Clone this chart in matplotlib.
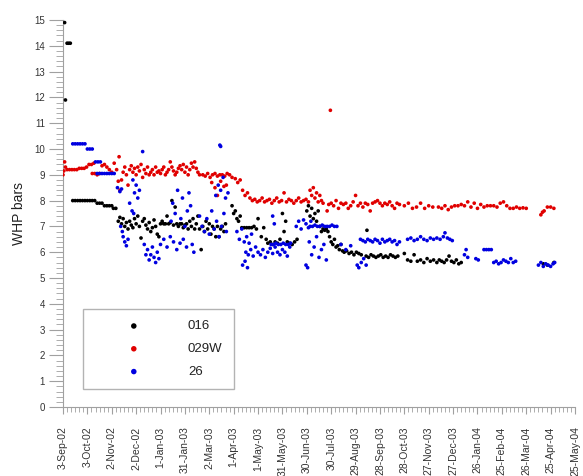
import matplotlib
matplotlib.use("Agg")
import matplotlib.pyplot as plt
from matplotlib.ticker import MultipleLocator

# ---------------------------------------------------------
# Data: day offsets from 3-Sep-02 and WHP readings (bars)
# ---------------------------------------------------------
tick_labels = ["3-Sep-02", "3-Oct-02", "2-Nov-02", "2-Dec-02", "1-Jan-03", "31-Jan-03",
               "2-Mar-03", "1-Apr-03", "1-May-03", "31-May-03", "30-Jun-03", "30-Jul-03",
               "29-Aug-03", "28-Sep-03", "28-Oct-03", "27-Nov-03", "27-Dec-03", "26-Jan-04",
               "25-Feb-04", "26-Mar-04", "25-Apr-04", "25-May-04"]

days_016 = [2, 3, 5, 7, 9,
            12, 15, 18, 21, 24, 27, 30, 33, 36, 39, 42, 45, 48, 51, 54, 57, 60, 62, 65,
            68, 70, 72, 74, 76, 78, 80, 82, 84, 86, 88, 90, 92, 94, 96, 98, 100, 102, 104,
            106, 108, 110, 112, 114, 116, 118, 120, 122, 124, 126, 128, 130, 132, 134, 136,
            138, 140, 142, 144, 146, 148, 150, 152, 154, 156, 158, 160, 162, 164, 166, 168,
            170, 172, 174, 176, 178, 180, 182, 184, 186, 188, 190, 192, 194, 196, 198, 200,
            208, 210, 212, 214, 216, 218, 220, 223, 226, 229, 232, 235, 238, 240, 244, 247,
            250, 252, 255, 258, 261, 264, 267, 270, 272, 274, 276, 279, 282, 285, 288,
            300, 302, 304, 306, 308, 310, 312, 314, 316, 318, 320, 322, 324, 326, 328, 330,
            332, 334, 336, 338, 340, 342, 344, 346, 349, 352, 355, 358, 361, 364, 367, 374,
            373, 376, 379, 382, 385, 388, 391, 394, 397, 400, 403, 406, 409, 412,
            420, 424, 428, 432, 436, 440, 444, 448, 452, 456, 460, 463, 466, 469, 472, 475,
            478, 481, 484, 487, 490, 591, 596, 604]
vals_016 = [14.9, 11.9, 14.1, 14.1, 14.1,
            8.0, 8.0, 8.0, 8.0, 8.0, 8.0, 8.0, 8.0, 8.0, 8.0, 7.9, 7.9, 7.9, 7.8, 7.8, 7.8, 7.8, 7.7, 7.7,
            7.2, 7.35, 7.1, 7.3, 7.0, 7.15, 6.9, 7.2, 7.05, 6.95, 7.3, 7.1, 7.4, 7.0, 6.55, 7.2, 7.3, 7.05, 6.9,
            7.15, 6.8, 6.95, 7.25, 7.0, 6.7, 6.6, 7.1, 7.2, 7.1, 7.1, 7.4, 7.1, 7.15, 8.0, 7.05,
            7.75, 7.1, 7.0, 7.1, 7.1, 6.95, 7.05, 7.1, 6.9, 7.2, 7.0, 7.3, 6.9, 7.1, 7.4, 6.9,
            6.1, 7.0, 6.8, 7.2, 6.9, 7.1, 6.7, 7.0, 6.9, 6.6, 7.0, 6.6, 6.9, 7.0, 6.8, 7.1,
            7.8, 7.5, 7.6, 7.3, 7.2, 7.4, 6.95, 6.95, 6.95, 6.95, 6.95, 7.0, 6.9, 7.3, 6.6, 6.95,
            6.5, 6.35, 6.4, 6.3, 6.4, 6.35, 6.5, 7.5, 6.8, 7.2, 6.4, 6.35, 6.3, 6.4, 6.5,
            7.6, 7.8, 7.4, 7.7, 7.3, 7.5, 7.2, 7.6, 7.0, 6.8, 6.9, 6.85, 6.9, 6.8, 6.6, 6.4,
            6.3, 6.5, 6.2, 6.25, 6.1, 6.3, 6.05, 6.0, 6.05, 5.95, 6.0, 5.9, 6.0, 5.95, 5.9, 6.85,
            5.85, 5.8, 5.9, 5.85, 5.8, 5.85, 5.9, 5.8, 5.85, 5.8, 5.9, 5.85, 5.8, 5.85,
            5.95, 5.7, 5.65, 5.9, 5.65, 5.7, 5.6, 5.75, 5.65, 5.7, 5.6, 5.7, 5.65, 5.6, 5.7, 5.85,
            5.65, 5.6, 5.7, 5.55, 5.6, 5.55, 5.5, 5.6]

days_029w = [0, 1, 2, 3, 5, 8, 11, 14, 17, 20, 23, 26, 29, 32, 35, 38, 36, 39, 42, 45, 48, 51, 54,
             57, 60, 63, 66, 69, 68, 70, 72, 74, 76, 78, 80, 82, 84, 86, 88, 90, 92, 94, 96, 98,
             100, 102, 104, 106, 108, 110, 112, 114, 116, 118, 120, 122, 124, 126, 128, 130, 132,
             134, 136, 138, 140, 142, 144, 146, 148, 150, 152, 154, 156, 158, 160, 162, 164, 166,
             168, 172, 175, 178, 181, 184, 187, 190, 193, 196, 199, 202, 205, 208,
             183, 187, 190, 194, 198, 201, 212, 215, 218, 221, 224, 227, 230,
             233, 236, 239, 242, 245, 248, 251, 254, 257, 260, 263, 266, 269, 272, 275, 278, 281,
             284, 287, 290, 293, 296, 299, 302, 304, 306, 308, 310, 312, 314, 316, 318, 320, 329,
             325, 327, 330, 333, 336, 339, 342, 345, 348, 351, 354, 357, 360, 363, 366, 369, 372,
             375, 378, 381, 384, 387, 390, 393, 396, 399, 402, 405, 408, 411, 414,
             420, 425, 430, 435, 440, 445, 450, 455, 462, 466, 470, 474, 478, 482, 486, 490, 494,
             498, 502, 506, 510, 514, 518, 522, 526, 530, 534, 538, 542, 546, 550, 554, 558,
             562, 566, 570, 588, 590, 592, 596, 600, 604]
vals_029w = [9.0, 9.15, 9.5, 9.3, 9.2, 9.2, 9.2, 9.2, 9.2, 9.25, 9.25, 9.25, 9.3, 9.4, 9.4, 9.45, 9.05, 9.05, 9.0, 9.05, 9.35, 9.4, 9.3,
             9.2, 9.1, 9.45, 9.2, 9.7, 8.75, 8.4, 8.8, 9.1, 9.3, 9.0, 8.6, 9.2, 9.35, 9.1, 9.25, 9.0, 9.3, 9.15, 9.4, 8.9,
             9.2, 9.05, 9.3, 9.0, 9.1, 9.2, 9.0, 9.3, 9.1, 9.15, 9.05, 9.2, 9.3, 9.0, 9.1, 9.2, 9.5,
             9.3, 9.15, 9.0, 9.1, 9.25, 9.35, 9.2, 9.4, 9.1, 9.3, 9.0, 9.2, 9.45, 9.3, 9.5, 9.25, 9.1,
             9.0, 9.0, 8.95, 9.05, 8.9, 9.0, 9.05, 8.95, 9.0, 9.0, 8.95, 9.05, 9.0, 8.9,
             8.7, 8.5, 8.2, 8.75, 8.55, 8.6, 8.85, 8.7, 8.8, 8.4, 8.2, 8.3, 8.1,
             8.0, 8.05, 7.95, 8.0, 8.1, 7.95, 8.0, 8.05, 7.9, 8.0, 8.1, 7.95, 8.0, 8.3, 7.95, 8.05, 8.0,
             7.9, 8.0, 8.1, 7.95, 8.0, 8.05, 7.95, 8.4, 8.2, 8.5, 8.1, 8.3, 7.95, 8.2, 8.0, 7.9, 11.5,
             7.6, 7.85, 7.9, 7.8, 8.0, 7.7, 7.9, 7.85, 7.9, 7.7, 7.8, 7.95, 8.2, 7.8, 7.9, 7.75, 7.9,
             7.85, 7.6, 7.9, 7.95, 8.0, 7.9, 7.8, 7.9, 7.85, 7.95, 7.8, 7.7, 7.9, 7.85,
             7.8, 7.9, 7.7, 7.75, 7.9, 7.7, 7.8, 7.75, 7.75, 7.7, 7.8, 7.65, 7.75, 7.8, 7.8, 7.85, 7.8,
             7.95, 7.75, 7.9, 7.7, 7.85, 7.75, 7.8, 7.8, 7.8, 7.75, 7.9, 7.95, 7.8, 7.7, 7.7, 7.75,
             7.7, 7.72, 7.7, 7.45, 7.55, 7.6, 7.75, 7.75, 7.7]

days_26 = [12, 15, 18, 21, 24, 27, 30, 33, 36, 40, 43, 46, 42, 45, 48, 51, 54, 57, 60, 63, 98,
           67, 70, 72, 86, 88, 90, 92, 94, 82, 85, 87, 71, 73, 74, 76, 78, 80,
           100, 102, 104, 106, 108, 110, 112, 114, 116, 118, 120, 124, 128, 132, 136, 140, 144, 148, 152,
           133, 135, 138, 141, 145, 147, 150, 153, 155, 157, 159, 161,
           168, 171, 174, 177, 180, 183, 186, 189, 192, 195, 198, 201, 188, 191, 194, 197, 200, 203,
           193, 194, 214, 217, 220, 223, 226, 229, 232,
           225, 228, 231, 234, 237, 240, 243, 246, 249, 252, 255, 258, 261, 264, 267, 270, 273, 276, 279,
           256, 259, 262, 265, 268, 271, 274, 277, 280, 221, 224, 227, 258, 260,
           287, 290, 293, 296, 299, 302, 305, 299,
           304, 307, 310, 313, 316, 319, 322, 325, 328, 331, 334, 337,
           303, 306, 309, 312, 315, 318, 321, 324, 301, 342, 348, 354,
           366, 369, 372, 375, 378, 381, 384, 387, 390, 393, 396, 399, 402, 405, 408, 411, 414,
           362, 364, 367, 370, 373,
           424, 428, 432, 436, 440, 444, 448, 452, 456, 460, 464, 468, 470, 473, 476, 479,
           494, 496, 498, 508, 511, 518, 521, 524, 527,
           530, 533, 536, 539, 542, 545, 548, 551, 554, 557,
           585, 588, 591, 594, 597, 600, 603, 605]
vals_26 = [10.2, 10.2, 10.2, 10.2, 10.2, 10.2, 10.0, 10.0, 10.0, 9.5, 9.5, 9.5, 9.05, 9.05, 9.05, 9.05, 9.05, 9.05, 9.05, 9.05, 9.9,
           8.5, 8.35, 8.45, 8.8, 8.3, 8.6, 8.1, 8.4, 7.9, 7.6, 7.5, 7.0, 6.8, 6.6, 6.4, 6.25, 6.5,
           6.3, 5.9, 6.1, 5.7, 5.9, 6.2, 5.8, 5.6, 6.0, 5.75, 6.3, 6.5, 6.2, 6.6, 6.4, 6.1, 6.35, 6.5, 6.2,
           7.2, 7.9, 7.5, 8.4, 7.3, 8.1, 7.0, 7.6, 8.3, 7.8, 6.3, 6.0,
           7.4, 7.0, 6.8, 7.3, 6.7, 7.6, 6.9, 7.2, 6.6, 7.0, 7.5, 6.8, 8.2, 8.6, 8.4, 8.9, 8.1, 8.3,
           10.15, 10.1, 6.8, 6.5, 6.9, 6.4, 6.6, 6.35, 6.7,
           6.0, 5.9, 6.1, 5.85, 6.2, 6.0, 5.9, 6.1, 5.8, 6.0, 6.15, 5.95, 6.2, 6.0, 5.9, 6.1, 6.0, 5.85, 6.2,
           6.3, 6.3, 6.35, 6.3, 6.3, 6.35, 6.3, 6.3, 6.35, 5.5, 5.65, 5.4, 7.4, 7.1,
           7.0, 7.2, 6.9, 7.25, 7.1, 6.95, 7.2, 5.5,
           7.0, 7.0, 7.05, 7.0, 7.0, 7.05, 7.0, 7.0, 7.0, 7.05, 7.0, 7.0,
           6.4, 5.9, 6.2, 6.6, 5.8, 6.1, 6.3, 5.7, 5.4, 6.3, 6.1, 6.25,
           6.5, 6.45, 6.4, 6.5, 6.45, 6.4, 6.5, 6.45, 6.35, 6.5, 6.4, 6.45, 6.5, 6.4, 6.45, 6.3, 6.4,
           5.5, 5.4, 5.6, 5.75, 5.5,
           6.5, 6.55, 6.45, 6.5, 6.6, 6.5, 6.45, 6.55, 6.5, 6.55, 6.5, 6.6, 6.75, 6.55, 6.5, 6.45,
           5.9, 6.1, 5.8, 5.75, 5.7, 6.1, 6.1, 6.1, 6.1,
           5.6, 5.65, 5.55, 5.6, 5.7, 5.65, 5.6, 5.75, 5.6, 5.65,
           5.5, 5.6, 5.45, 5.55, 5.5, 5.45, 5.55, 5.6]

series = [("016", days_016, vals_016, "black"),
          ("029W", days_029w, vals_029w, "#e00000"),
          ("26", days_26, vals_26, "#0000e0")]


def main() -> None:
    plt.rcParams["font.family"] = ["Liberation Sans", "DejaVu Sans"]
    fig = plt.figure(figsize=(5.83, 4.76), dpi=100)
    ax = fig.add_axes([63 / 583, 1 - 407 / 476, (575 - 63) / 583, (407 - 20) / 476])

    for name, d, v, c in series:
        ax.scatter(d, v, s=7, color=c, edgecolors="none", label=name, zorder=3)

    ax.set_xlim(0, 630)
    ax.set_ylim(0, 15)

    # axis styling: gray spines, outward ticks, no frame on top/right
    grey = "#a0a0a0"
    for side in ("top", "right"):
        ax.spines[side].set_visible(False)
    for side in ("left", "bottom"):
        ax.spines[side].set_color(grey)
        ax.spines[side].set_linewidth(0.8)

    ax.set_xticks(range(0, 631, 30), labels=tick_labels, rotation=90)
    ax.xaxis.set_minor_locator(MultipleLocator(5))
    ax.yaxis.set_major_locator(MultipleLocator(1))
    ax.yaxis.set_minor_locator(MultipleLocator(0.2))

    ax.tick_params(axis="x", which="major", length=5, width=0.8, color=grey,
                   labelsize=7.5, labelcolor="#333333", pad=9)
    ax.tick_params(axis="x", which="minor", length=3.5, width=0.6, color=grey)
    ax.tick_params(axis="y", which="major", length=10, width=0.8, color=grey,
                   labelsize=7, labelcolor="#333333", pad=3)
    ax.tick_params(axis="y", which="minor", length=5, width=0.6, color=grey)

    ax.set_ylabel("WHP bars", fontsize=10, color="#222222", labelpad=6)

    leg = ax.legend(loc="upper left", bbox_to_anchor=(83 / 583, 1 - 309 / 476),
                    bbox_transform=fig.transFigure, fontsize=9.5, frameon=True,
                    fancybox=False, borderpad=0.85, handlelength=6, handletextpad=1.1,
                    labelspacing=0.8, markerscale=1.5, borderaxespad=0)
    leg.get_frame().set_edgecolor(grey)
    leg.get_frame().set_linewidth(1.0)
    for t in leg.get_texts():
        t.set_color("#222222")

    fig.savefig("out.png", dpi=100)
    plt.close(fig)


if __name__ == "__main__":
    main()
